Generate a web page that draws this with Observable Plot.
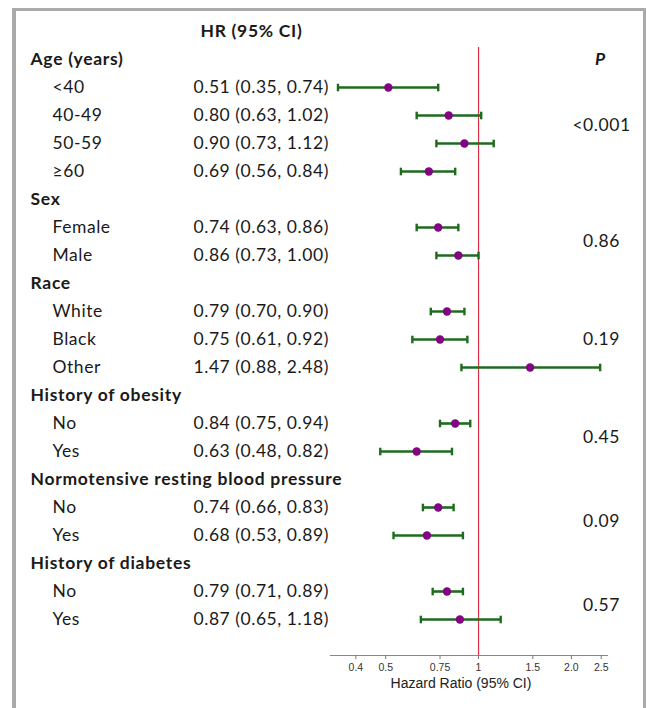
<!DOCTYPE html>
<html>
<head>
<meta charset="utf-8">
<script src="https://cdn.jsdelivr.net/npm/d3@7"></script>
<script src="https://cdn.jsdelivr.net/npm/@observablehq/plot@0.6"></script>
<style>
  html, body { margin: 0; padding: 0; background: #fff; }
  #wrap { position: relative; width: 647px; height: 708px; overflow: hidden; }
  #border { position: absolute; left: 12px; top: 8px; width: 627px; height: 760px;
            border-top: 3px solid #aaaaaa; border-left: 4px solid #aaaaaa; border-right: 3px solid #aaaaaa; }
  #chart { position: absolute; left: 0; top: 0; }
</style>
</head>
<body>
<div id="wrap"><div id="border"></div><div id="chart"></div></div>
<script>
// ---- data ----
const labels = ["Age (years)", "<40", "40-49", "50-59", "≥60",
  "Sex", "Female", "Male",
  "Race", "White", "Black", "Other",
  "History of obesity", "No", "Yes",
  "Normotensive resting blood pressure", "No", "Yes",
  "History of diabetes", "No", "Yes"];
const isGroup = [true, false, false, false, false,
  true, false, false,
  true, false, false, false,
  true, false, false,
  true, false, false,
  true, false, false];
const hr =    [null, 0.51, 0.80, 0.90, 0.69, null, 0.74, 0.86, null, 0.79, 0.75, 1.47, null, 0.84, 0.63, null, 0.74, 0.68, null, 0.79, 0.87];
const lower = [null, 0.35, 0.63, 0.73, 0.56, null, 0.63, 0.73, null, 0.70, 0.61, 0.88, null, 0.75, 0.48, null, 0.66, 0.53, null, 0.71, 0.65];
const upper = [null, 0.74, 1.02, 1.12, 0.84, null, 0.86, 1.00, null, 0.90, 0.92, 2.48, null, 0.94, 0.82, null, 0.83, 0.89, null, 0.89, 1.18];
const pLabels = ["<0.001", "0.86", "0.19", "0.45", "0.09", "0.57"];
const pRows = [2.35, 6.5, 10, 13.5, 16.5, 19.5];
const xTicks = [0.4, 0.5, 0.75, 1, 1.5, 2.0, 2.5];
const xTickLabels = ["0.4", "0.5", "0.75", "1", "1.5", "2.0", "2.5"];

// ---- tables ----
const rows = labels.map((label, i) => ({
  row: i, label, group: isGroup[i], hr: hr[i], lo: lower[i], hi: upper[i],
  text: hr[i] == null ? null : `${hr[i].toFixed(2)} (${lower[i].toFixed(2)}, ${upper[i].toFixed(2)})`
}));
const est = rows.filter(d => d.hr != null);
const groups = rows.filter(d => d.group);
const items = rows.filter(d => !d.group);
const ps = pLabels.map((p, i) => ({p, row: pRows[i]}));

const capSymbol = {
  draw(ctx, size) {
    const h = Math.sqrt(size / Math.PI);
    ctx.moveTo(0, -h);
    ctx.lineTo(0, h);
  }
};

const font = "Lato, 'Open Sans', sans-serif";
const green = "#1e6b1e";
const purple = "#820482";
const ink = "#1a1a1a";

// letter-spacing helper applied to a text mark's group
const spaced = (mark, ls) => {
  const render = mark.render;
  return Object.assign(mark, {});
};

const chart = Plot.plot({
  width: 647,
  height: 708,
  marginLeft: 330,
  marginRight: 40,
  marginTop: 47,
  marginBottom: 53,
  style: {fontFamily: font, background: "transparent", overflow: "visible"},
  x: {type: "log", domain: [0.331, 2.62], ticks: xTicks, tickFormat: (d) => xTickLabels[xTicks.indexOf(d)]},
  y: {domain: [0, 20], range: [59, 619], axis: null},
  marks: [
    Plot.frame({anchor: "bottom", stroke: "#888", strokeWidth: 1.2}),
    Plot.axisX({ticks: xTicks, tickFormat: (d) => xTickLabels[xTicks.indexOf(d)], tickSize: 4, tickPadding: 4,
      fontSize: 10.5, fontFamily: "'Liberation Sans', Arial, sans-serif", color: "#333",
      label: null, stroke: "#777"}),
    Plot.text(["Hazard Ratio (95% CI)"], {frameAnchor: "bottom", dy: 32, dx: -8,
      fontSize: 14, fontFamily: "'Liberation Sans', Arial, sans-serif", fill: "#222"}),
    Plot.ruleX([1], {stroke: "#e0304a", strokeWidth: 1.2}),
    Plot.ruleY(est, {x1: "lo", x2: "hi", y: "row", stroke: green, strokeWidth: 2.6}),
    Plot.dot(est, {x: "lo", y: "row", symbol: capSymbol, r: 3.8, stroke: green, strokeWidth: 2.4}),
    Plot.dot(est, {x: "hi", y: "row", symbol: capSymbol, r: 3.8, stroke: green, strokeWidth: 2.4}),
    Plot.dot(est, {x: "hr", y: "row", r: 4.2, fill: purple, stroke: "none"}),
    // left text columns
    Plot.text(groups, {y: "row", text: "label", frameAnchor: "left", dx: -300, textAnchor: "start",
      fontSize: 17.5, fontWeight: "bold", fill: ink, className: "grp"}),
    Plot.text(items, {y: "row", text: "label", frameAnchor: "left", dx: -278, textAnchor: "start",
      fontSize: 17.5, fill: ink}),
    Plot.text(items, {y: "row", text: "text", frameAnchor: "left", dx: -137, textAnchor: "start",
      fontSize: 17.5, fill: ink}),
    Plot.text(["HR (95% CI)"], {y: [-1], frameAnchor: "left", dx: -130, textAnchor: "start",
      fontSize: 17.5, fontWeight: "bold", fill: ink}),
    Plot.text(["P"], {y: [0], frameAnchor: "right", dx: -7, textAnchor: "middle",
      fontSize: 17.5, fontWeight: "bold", fontStyle: "italic", fill: ink}),
    Plot.text(ps, {y: "row", text: "p", frameAnchor: "right", dx: -6, textAnchor: "middle",
      fontSize: 17.5, fill: ink})
  ]
});
// widen the table text a little (letter-spacing) to match the reference typeface
const textGroups = chart.querySelectorAll('g[aria-label="text"]');
textGroups.forEach((g, i) => {
  if (i === 0) return; // axis title
  const bold = g.getAttribute("font-weight") === "bold";
  g.setAttribute("letter-spacing", bold ? "0.7px" : "0.55px");
});
document.getElementById("chart").appendChild(chart);
</script>
</body>
</html>
